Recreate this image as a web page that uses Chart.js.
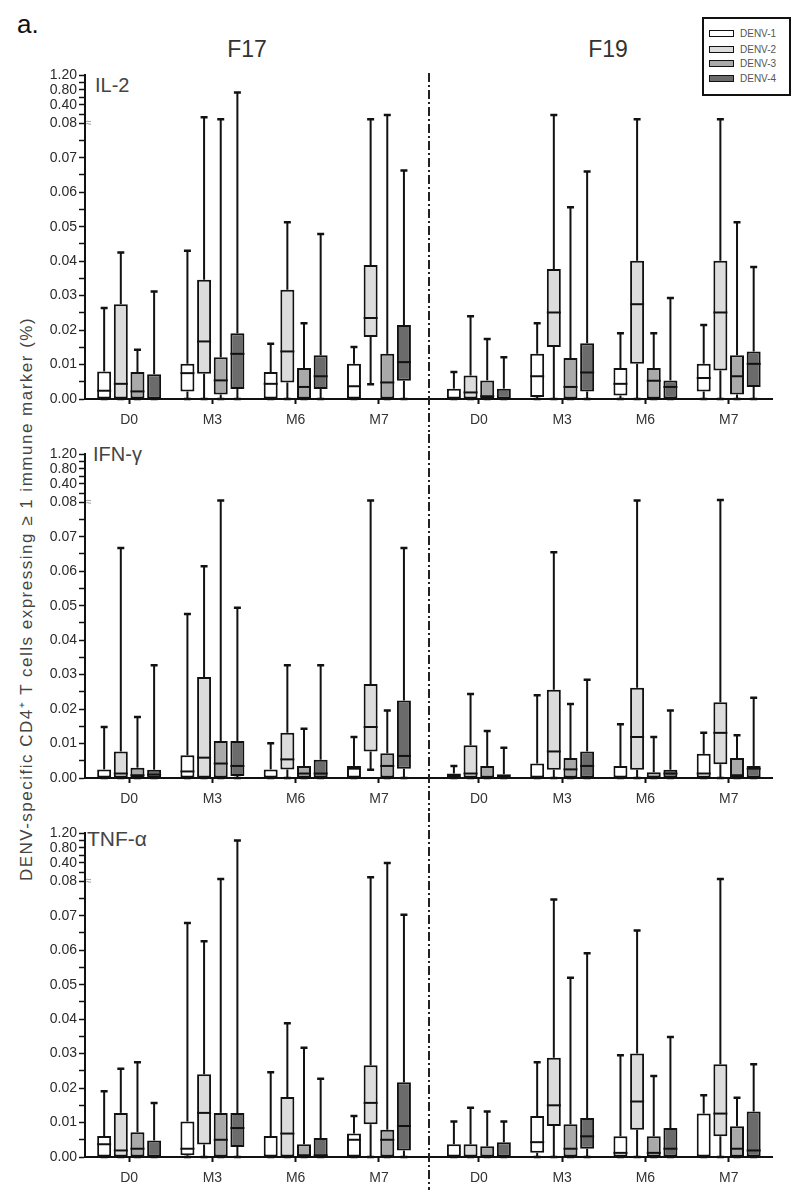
<!DOCTYPE html>
<html><head><meta charset="utf-8">
<script src="https://cdn.jsdelivr.net/npm/chart.js@4.4.1/dist/chart.umd.min.js"></script>
<style>
html,body{margin:0;padding:0;background:#fff;}
body{position:relative;width:800px;height:1193px;overflow:hidden;font-family:'Liberation Sans',Arial,sans-serif;color:#222;}
canvas{position:absolute;left:0;}
.t{position:absolute;white-space:nowrap;line-height:1;}
#legend{position:absolute;left:702px;top:17px;width:85px;height:75px;border:2px solid #111;background:#fff;}
.sw{position:absolute;left:5px;width:23px;height:5px;border:1.5px solid #111;}
.lt{position:absolute;left:36px;font-size:10px;color:#555;line-height:10px;}
#ytitle{position:absolute;left:26px;top:603px;transform:translate(-50%,-50%) rotate(-90deg);font-size:17px;letter-spacing:1.5px;color:#444;white-space:nowrap;line-height:1;}
</style></head><body>
<div class="t" style="left:17px;top:11px;font-size:26px;color:#111;">a.</div>
<div class="t" id="cohort0" style="top:38px;font-size:23px;color:#333;transform:translateX(-50%);left:247px;">F17</div>
<div class="t" id="cohort1" style="top:38px;font-size:23px;color:#333;transform:translateX(-50%);left:608px;">F19</div>
<div id="legend"></div>
<div id="ytitle">DENV-specific CD4⁺ T cells expressing ≥ 1 immune marker (%)</div>
<div class="t" id="m0" style="left:95px;top:75px;font-size:20px;color:#444;">IL-2</div>
<div class="t" id="m1" style="left:93px;top:444px;font-size:20px;color:#444;">IFN-γ</div>
<div class="t" id="m2" style="left:87px;top:828px;font-size:21px;color:#444;">TNF-α</div>
<canvas id="c0" width="800" height="379" style="top:55px"></canvas>
<canvas id="c1" width="800" height="379" style="top:434px"></canvas>
<canvas id="c2" width="800" height="379" style="top:813px"></canvas>
<script>
// ---------- categories ----------
const cohorts = ['F17', 'F19'];
const timepoints = ['D0', 'M3', 'M6', 'M7'];
const serotypes = ['DENV-1', 'DENV-2', 'DENV-3', 'DENV-4'];
const markers = ['IL-2', 'IFN-γ', 'TNF-α'];

// ---------- y tick labels (broken axis) ----------
const yMajorTicks = [0, 0.01, 0.02, 0.03, 0.04, 0.05, 0.06, 0.07, 0.08, 0.40, 0.80, 1.20];
const yMinorTicks = [0.005, 0.015, 0.025, 0.035, 0.045, 0.055, 0.065, 0.075, 0.24, 0.60, 1.00];

// ---------- box statistics: [min, q1, median, q3, max]
// order: F17 D0, M3, M6, M7, F19 D0, M3, M6, M7
const il2Denv1 = [[0,0,0.0024,0.0080,0.0264],[0,0.0022,0.0075,0.0102,0.0430],[0,0,0.0044,0.0078,0.0160],[0,0,0.0037,0.0102,0.0151],
                  [0,0,0,0.0030,0.0078],[0,0.0006,0.0066,0.0131,0.0220],[0,0.0010,0.0044,0.0090,0.0191],[0,0.0022,0.0061,0.0102,0.0215]];
const il2Denv2 = [[0,0,0.0044,0.0275,0.0425],[0,0.0073,0.0167,0.0346,0.185],[0,0.0048,0.0138,0.0317,0.0513],[0.0043,0.0180,0.0235,0.0389,0.15],
                  [0,0,0.0019,0.0068,0.0240],[0,0.0151,0.0251,0.0377,0.225],[0,0.0102,0.0275,0.0401,0.15],[0,0.0083,0.0251,0.0401,0.15]];
const il2Denv3 = [[0,0,0.0022,0.0078,0.0143],[0,0.0013,0.0054,0.0121,0.15],[0,0,0.0035,0.0090,0.0220],[0,0,0.0048,0.0131,0.225],
                  [0,0,0.0008,0.0054,0.0174],[0,0,0.0035,0.0119,0.0556],[0,0,0.0053,0.0090,0.0191],[0,0.0013,0.0066,0.0127,0.0513]];
const il2Denv4 = [[0,0,0,0.0072,0.0312],[0,0.0029,0.0131,0.0191,0.73],[0,0.0029,0.0066,0.0127,0.0479],[0,0.0053,0.0107,0.0215,0.0663],
                  [0,0,0,0.0030,0.0121],[0,0.0022,0.0077,0.0162,0.0660],[0,0,0.0035,0.0054,0.0293],[0,0.0035,0.0102,0.0138,0.0383]];

const ifnDenv1 = [[0,0,0,0.0025,0.0148],[0,0,0.0019,0.0066,0.0476],[0,0,0,0.0025,0.0101],[0,0,0.0027,0.0035,0.0119],
                  [0,0,0,0.0013,0.0035],[0,0,0,0.0042,0.0240],[0,0,0,0.0035,0.0156],[0,0,0.0013,0.0070,0.0131]];
const ifnDenv2 = [[0,0,0.0013,0.0077,0.0667],[0,0,0.0059,0.0293,0.0614],[0,0.0025,0.0054,0.0131,0.0327],[0.0024,0.0077,0.0148,0.0273,0.11],
                  [0,0,0.0013,0.0095,0.0244],[0,0.0024,0.0077,0.0256,0.0655],[0,0.0024,0.0119,0.0262,0.11],[0,0.0040,0.0131,0.0220,0.12]];
const ifnDenv3 = [[0,0,0.0008,0.0030,0.0177],[0,0,0.0042,0.0107,0.11],[0,0,0.0013,0.0035,0.0143],[0,0,0.0035,0.0072,0.0196],
                  [0,0,0,0.0035,0.0136],[0,0,0.0025,0.0058,0.0215],[0,0,0,0.0017,0.0119],[0,0,0.0008,0.0058,0.0124]];
const ifnDenv4 = [[0,0,0.0010,0.0024,0.0327],[0,0.0006,0.0035,0.0107,0.0494],[0,0,0.0013,0.0053,0.0327],[0,0.0027,0.0064,0.0225,0.0667],
                  [0,0,0,0.0011,0.0088],[0,0,0.0035,0.0077,0.0285],[0,0,0.0013,0.0024,0.0196],[0,0,0.0027,0.0035,0.0233]];

const tnfDenv1 = [[0,0,0.0037,0.0061,0.0191],[0,0.0005,0.0024,0.0103,0.0679],[0,0,0,0.0061,0.0246],[0,0,0.0050,0.0068,0.0119],
                  [0,0,0,0.0037,0.0103],[0,0.0012,0.0043,0.0119,0.0275],[0,0,0.0012,0.0060,0.0295],[0,0,0,0.0126,0.0179]];
const tnfDenv2 = [[0,0,0.0019,0.0128,0.0256],[0,0.0036,0.0128,0.0240,0.0626],[0,0,0.0068,0.0174,0.0388],[0,0.0095,0.0157,0.0266,0.15],
                  [0,0,0,0.0037,0.0143],[0,0.0090,0.0150,0.0288,0.0747],[0,0.0079,0.0161,0.0300,0.0657],[0,0.0060,0.0126,0.0269,0.12]];
const tnfDenv3 = [[0,0,0.0024,0.0072,0.0275],[0,0,0.0050,0.0128,0.12],[0,0,0.0005,0.0037,0.0317],[0,0,0.0050,0.0079,0.40],
                  [0,0,0,0.0031,0.0132],[0,0,0.0024,0.0095,0.0520],[0,0,0.0012,0.0060,0.0235],[0,0,0.0024,0.0089,0.0172]];
const tnfDenv4 = [[0,0,0,0.0048,0.0157],[0,0.0029,0.0084,0.0128,1.0],[0,0,0.0005,0.0055,0.0227],[0,0.0019,0.0090,0.0217,0.0703],
                  [0,0,0,0.0043,0.0103],[0,0.0024,0.0060,0.0113,0.0591],[0,0,0.0024,0.0084,0.0348],[0,0,0.0019,0.0132,0.0269]];

const panelData = [
  [il2Denv1, il2Denv2, il2Denv3, il2Denv4],
  [ifnDenv1, ifnDenv2, ifnDenv3, ifnDenv4],
  [tnfDenv1, tnfDenv2, tnfDenv3, tnfDenv4]
];

// ---------- styles ----------
const fillColors = ['#ffffff', '#dcdcdc', '#a9a9a9', '#6b6b6b'];
const ink = '#111111';

// ---------- broken y scale: linear to 0.08, compressed above ----------
const breakValues = [0, 0.08, 0.40, 0.80, 1.20];
const breakUnits  = [0, 8, 8.53, 8.97, 9.4];
function toUnits(v) {
  for (let i = 1; i < breakValues.length; i++) {
    if (v <= breakValues[i] || i === breakValues.length - 1) {
      const a = breakValues[i-1], b = breakValues[i];
      return breakUnits[i-1] + (v - a) / (b - a) * (breakUnits[i] - breakUnits[i-1]);
    }
  }
}
function fromUnits(u) {
  for (let i = 1; i < breakUnits.length; i++) {
    if (u <= breakUnits[i] || i === breakUnits.length - 1) {
      const a = breakUnits[i-1], b = breakUnits[i];
      return breakValues[i-1] + (u - a) / (b - a) * (breakValues[i] - breakValues[i-1]);
    }
  }
}
class BrokenLinearScale extends Chart.LinearScale {
  buildTicks() {
    return yMajorTicks.concat(yMinorTicks).sort((a,b)=>a-b).map(v => ({value: v}));
  }
  getPixelForValue(value) {
    return super.getPixelForValue(toUnits(value));
  }
  getValueForPixel(pixel) {
    return fromUnits(super.getValueForPixel(pixel));
  }
}
BrokenLinearScale.id = 'brokenLinear';
BrokenLinearScale.defaults = Chart.LinearScale.defaults;
Chart.register(BrokenLinearScale);

// ---------- x positions of groups ----------
const cohortGap = 0.2;
const groupPositions = [];
const groupLabels = [];
cohorts.forEach((c, ci) => timepoints.forEach((t, ti) => {
  groupPositions.push(ci * (timepoints.length + cohortGap) + ti);
  groupLabels.push(t);
}));
const separatorX = (timepoints.length - 1 + timepoints.length + cohortGap) / 2;

// ---------- plugins ----------
const boxPlugin = {
  id: 'boxWhisker',
  beforeDatasetsDraw(chart) {
    const y = chart.scales.y, ctx = chart.ctx;
    ctx.save();
    ctx.strokeStyle = ink;
    chart.data.datasets.forEach((ds, di) => {
      chart.getDatasetMeta(di).data.forEach((bar, i) => {
        const [mn, q1, , q3, mx] = ds.stats[i];
        const x = bar.x, cw = bar.width / 2;
        const pq3 = y.getPixelForValue(q3), pmx = y.getPixelForValue(mx);
        const pq1 = y.getPixelForValue(q1), pmn = y.getPixelForValue(mn);
        ctx.lineWidth = 2;
        ctx.beginPath();
        ctx.moveTo(x, pq3); ctx.lineTo(x, pmx);
        ctx.moveTo(x, pq1); ctx.lineTo(x, pmn);
        ctx.stroke();
        ctx.lineWidth = 2.5;
        ctx.beginPath();
        ctx.moveTo(x - cw / 2, pmx); ctx.lineTo(x + cw / 2, pmx);
        ctx.moveTo(x - cw / 2, pmn); ctx.lineTo(x + cw / 2, pmn);
        ctx.stroke();
      });
    });
    ctx.restore();
  },
  afterDatasetsDraw(chart) {
    const y = chart.scales.y, ctx = chart.ctx;
    ctx.save();
    ctx.strokeStyle = ink;
    ctx.lineWidth = 2;
    chart.data.datasets.forEach((ds, di) => {
      chart.getDatasetMeta(di).data.forEach((bar, i) => {
        const med = ds.stats[i][2];
        const pm = y.getPixelForValue(med);
        ctx.beginPath();
        ctx.moveTo(bar.x - bar.width / 2, pm); ctx.lineTo(bar.x + bar.width / 2, pm);
        ctx.stroke();
      });
    });
    ctx.restore();
  },
  afterDraw(chart, args, opts) {
    const ctx = chart.ctx, x = chart.scales.x, y = chart.scales.y;
    const area = chart.chartArea;
    // dash-dot separator between cohorts
    const sx = Math.round(x.getPixelForValue(separatorX));
    ctx.save();
    ctx.strokeStyle = '#222';
    ctx.lineWidth = 2;
    ctx.setLineDash([9, 3, 2, 3]);
    ctx.beginPath();
    ctx.moveTo(sx, opts.first ? area.top - 2 : 0);
    ctx.lineTo(sx, chart.height - 2);
    ctx.stroke();
    ctx.setLineDash([]);
    // axis break mark at 0.08
    const by = y.getPixelForValue(0.08);
    ctx.fillStyle = '#888';
    ctx.font = '10px "Liberation Sans", Arial, sans-serif';
    ctx.textAlign = 'left';
    ctx.textBaseline = 'middle';
    ctx.fillText('≈', area.left + 1, by);
    ctx.restore();
  }
};

// ---------- build charts ----------
Chart.defaults.font.family = "'Liberation Sans', Arial, sans-serif";

markers.forEach((m, pi) => {
  const datasets = serotypes.map((s, si) => ({
    label: s,
    stats: panelData[pi][si],
    data: panelData[pi][si].map((st, gi) => ({x: groupPositions[gi], y: [st[1], st[3]]})),
    backgroundColor: fillColors[si],
    borderColor: ink,
    borderWidth: 2,
    borderSkipped: false,
    categoryPercentage: 0.8,
    barPercentage: 0.84
  }));
  new Chart(document.getElementById('c' + pi), {
    type: 'bar',
    data: {datasets},
    plugins: [boxPlugin],
    options: {
      responsive: false,
      animation: false,
      devicePixelRatio: 1,
      layout: {padding: {top: 20, right: 28, left: 0, bottom: 0}},
      plugins: {legend: {display: false}, tooltip: {enabled: false}, title: {display: false}, boxWhisker: {first: pi === 0}},
      scales: {
        x: {
          type: 'linear',
          offset: false,
          min: -0.53,
          max: 7.72,
          afterBuildTicks: sc => { sc.ticks = groupPositions.map(v => ({value: v})); },
          afterFit: sc => { sc.height = 35; },
          ticks: {
            autoSkip: false,
            padding: 8,
            color: '#333',
            font: {size: 14},
            callback: v => { const i = groupPositions.indexOf(v); return i >= 0 ? groupLabels[i] : ''; }
          },
          grid: {offset: false, drawOnChartArea: false, drawTicks: true, tickLength: 5, tickColor: ink, tickWidth: 2},
          border: {display: true, color: ink, width: 2}
        },
        y: {
          type: 'brokenLinear',
          min: 0,
          max: toUnits(1.20),
          afterFit: sc => { sc.width = 85; },
          ticks: {
            autoSkip: false,
            padding: 2,
            color: '#2a2a2a',
            font: {size: 14},
            callback: v => yMajorTicks.includes(v) ? v.toFixed(2) : ''
          },
          grid: {drawOnChartArea: false, drawTicks: true, tickLength: 6, tickColor: ink, tickWidth: 1.5},
          border: {display: true, color: ink, width: 2}
        }
      }
    }
  });
});

// ---------- legend ----------
const legend = document.getElementById('legend');
const rowCenters = [15, 31, 45, 60];
serotypes.forEach((s, i) => {
  const sw = document.createElement('div');
  sw.className = 'sw';
  sw.style.top = (rowCenters[i] - 4) + 'px';
  sw.style.background = fillColors[i];
  legend.appendChild(sw);
  const t = document.createElement('div');
  t.className = 'lt';
  t.style.top = (rowCenters[i] - 5) + 'px';
  t.textContent = s;
  legend.appendChild(t);
});

// ---------- y title: its upper end sits level with the IL-2 panel's lower half ----------
const yt = document.getElementById('ytitle');
yt.style.top = (317 + yt.offsetWidth / 2) + 'px';
</script>
</body></html>
